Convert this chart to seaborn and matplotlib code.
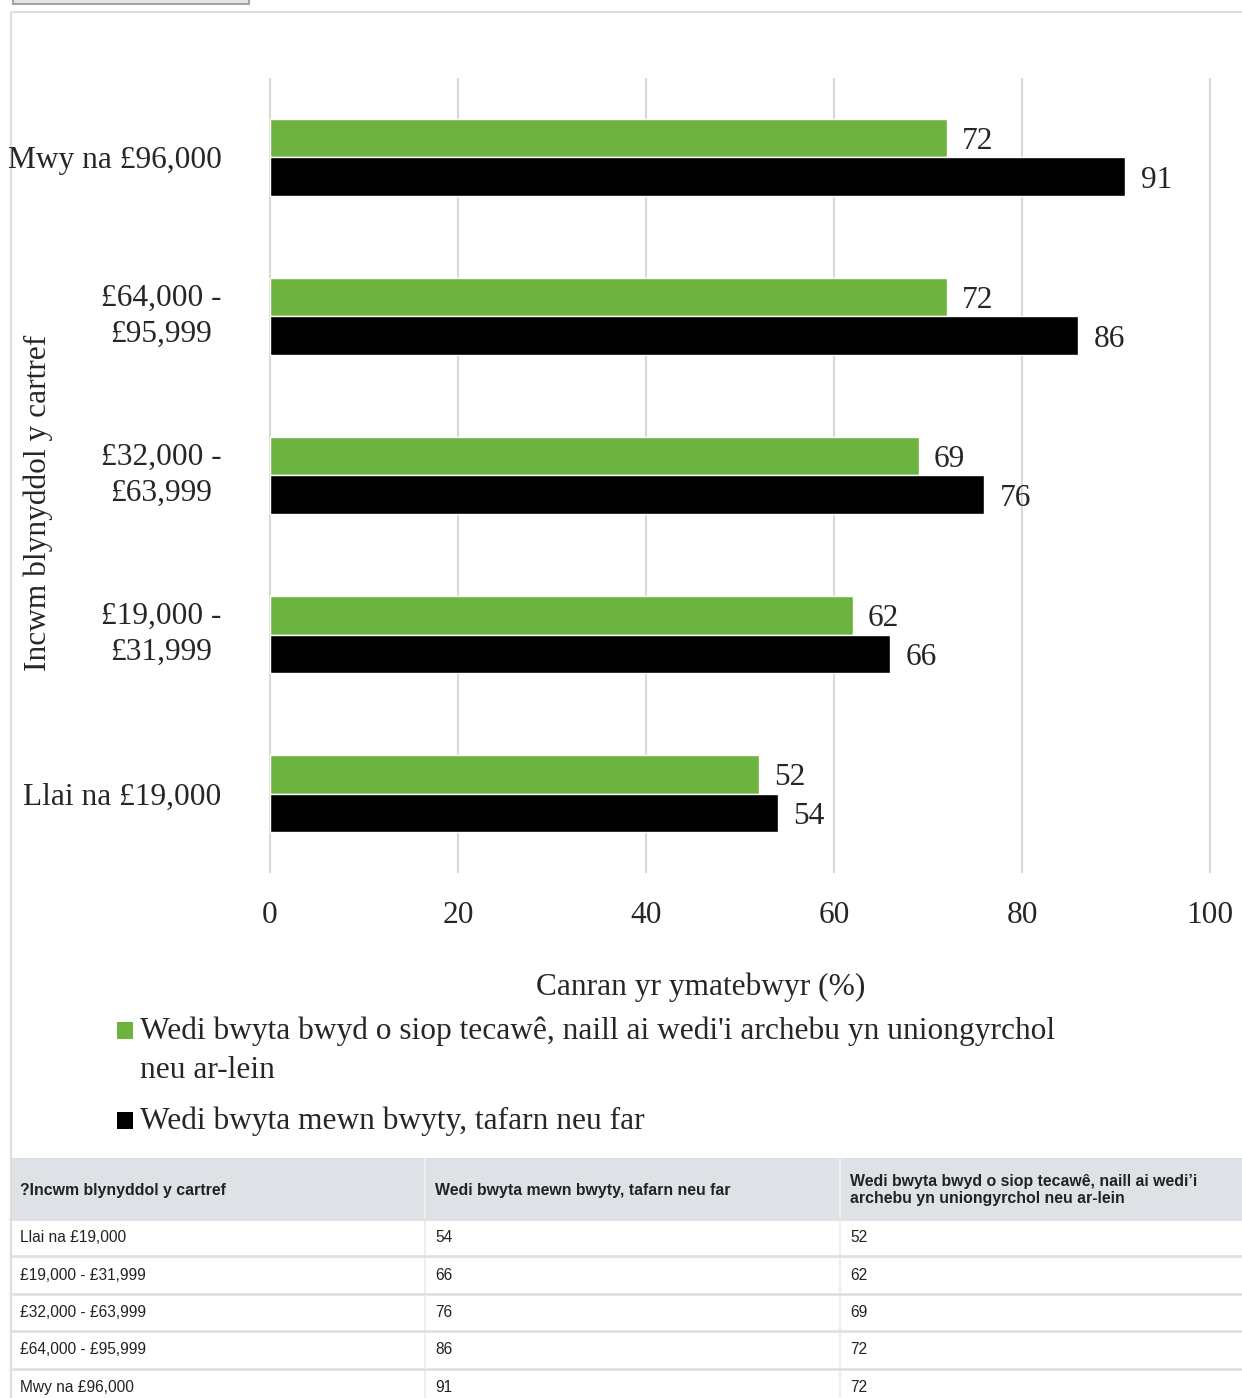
import textwrap
import numpy as np
import pandas as pd
import seaborn as sns
import matplotlib.pyplot as plt
from matplotlib.patches import Rectangle

incomes = ["Llai na £19,000", "£19,000 - £31,999", "£32,000 - £63,999",
           "£64,000 - £95,999", "Mwy na £96,000"]
takeaway = [52, 62, 69, 72, 72]
restaurant = [54, 66, 76, 86, 91]
series = ["Wedi bwyta bwyd o siop tecawê, naill ai wedi'i archebu yn uniongyrchol neu ar-lein",
          "Wedi bwyta mewn bwyty, tafarn neu far"]
colors = ["#6db33f", "#000000"]
x_ticks = [0, 20, 40, 60, 80, 100]
table_head = ["?Incwm blynyddol y cartref", "Wedi bwyta mewn bwyty, tafarn neu far",
              "Wedi bwyta bwyd o siop tecawê, naill ai wedi’i\narchebu yn uniongyrchol neu ar-lein"]

df = pd.DataFrame({
    "income": incomes * 2,
    "series": [series[0]] * 5 + [series[1]] * 5,
    "value": takeaway + restaurant,
})

SERIF = "Liberation Serif"
SANS = "Liberation Sans"
FS = 22.6

sns.set_style("white")
plt.rcParams["font.family"] = [SERIF, "DejaVu Serif"]

W, H = 1242, 1398
fig = plt.figure(figsize=(W / 100, H / 100), dpi=100)

# full-page overlay in pixel coords for frame / legend / table
ov = fig.add_axes([0, 0, 1, 1])
ov.set_xlim(0, W)
ov.set_ylim(H, 0)
ov.axis("off")

# top button and chart frame
ov.add_patch(Rectangle((13, -8), 236, 12, fc="#e6e6e6", ec="#a3a3a3", lw=1.5))
ov.add_patch(Rectangle((11, 11.5), 1250, 1147, fc="none", ec="#dddddd", lw=1.5))

# chart axes
left_px, right_px, top_px, bot_px = 260.6, 1219.4, 78, 873
ax = fig.add_axes([left_px / W, 1 - bot_px / H, (right_px - left_px) / W, (bot_px - top_px) / H])
ax.set_facecolor("none")

order = incomes[::-1]
sns.barplot(data=df, y="income", x="value", hue="series", order=order, hue_order=series,
            palette=colors, saturation=1, width=0.48, orient="h", legend=False, ax=ax)

for c in ax.containers:
    labs = ax.bar_label(c, fmt="%d", padding=11, fontsize=FS, family=SERIF)
    for t in labs:
        t.set_va("center_baseline")

ax.set_xlim(-1, 101)
ax.set_xticks(x_ticks)
ax.set_xticklabels([str(t) for t in x_ticks], fontsize=FS)
ax.tick_params(axis="x", length=0, pad=20.5)

ylabels = [lab if lab.startswith("Mwy") or lab.startswith("Llai") else lab.replace(" - ", " -\n")
           for lab in order]
ax.set_yticks(range(len(order)))
ax.set_yticklabels(ylabels, fontsize=FS, multialignment="center", linespacing=1.3)
ax.tick_params(axis="y", length=0, pad=28)
for t in ax.get_yticklabels():
    if "\n" in t.get_text():
        t.set_va("center")

ax.grid(axis="x", color="#d9d9d9", lw=1.5)
ax.grid(axis="y", visible=False)
ax.set_axisbelow(True)
sns.despine(ax=ax, left=True, bottom=True)

ax.set_xlabel("Canran yr ymatebwyr (%)", fontsize=FS)
ax.xaxis.set_label_coords((701 - left_px) / (right_px - left_px), -(987 - bot_px) / (bot_px - top_px))
ax.xaxis.label.set_va("center")
ax.set_ylabel("Incwm blynyddol y cartref", fontsize=FS)
ax.yaxis.set_label_coords((38 - left_px) / (right_px - left_px), 1 - (503 - top_px) / (bot_px - top_px))
ax.yaxis.label.set_va("center")

# legend
leg_y = [1030, 1120]
leg_txt = [textwrap.fill(series[0], 72), series[1]]
for y, col, txt in zip(leg_y, colors, leg_txt):
    ov.add_patch(Rectangle((117, y - 8.5), 16, 17, fc=col, ec="none"))
    ov.text(140, y - 13, txt, fontsize=FS, va="top", ha="left", linespacing=1.41)

# data table
ov.add_patch(Rectangle((10, 1159), 1240, 60, fc="#dee2e6", ec="none"))
col_x = [10, 425, 840]
for cx in col_x[1:]:
    ov.plot([cx, cx], [1159, H], color="#eceef0", lw=1.5)
ov.plot([10.5, 10.5], [1159, H], color="#dddddd", lw=1.5)
row_edges = [1219, 1256, 1293.5, 1331, 1368.5]
for ry in row_edges:
    ov.plot([10, W], [ry, ry], color="#dee2e6", lw=2)
for cx, txt in zip(col_x, table_head):
    ov.text(cx + 10, 1190, txt, fontsize=11.4, fontweight="bold", family=SANS,
            va="center", ha="left", color="#222222", linespacing=1.2)
for i, (inc, r, t) in enumerate(zip(incomes, restaurant, takeaway)):
    y = 1237.5 + i * 37.5
    for cx, txt in zip(col_x, [inc, str(r), str(t)]):
        ov.text(cx + 10, y, txt, fontsize=11.2, family=SANS, va="center", ha="left", color="#222222")

fig.savefig("out.png", dpi=100)
